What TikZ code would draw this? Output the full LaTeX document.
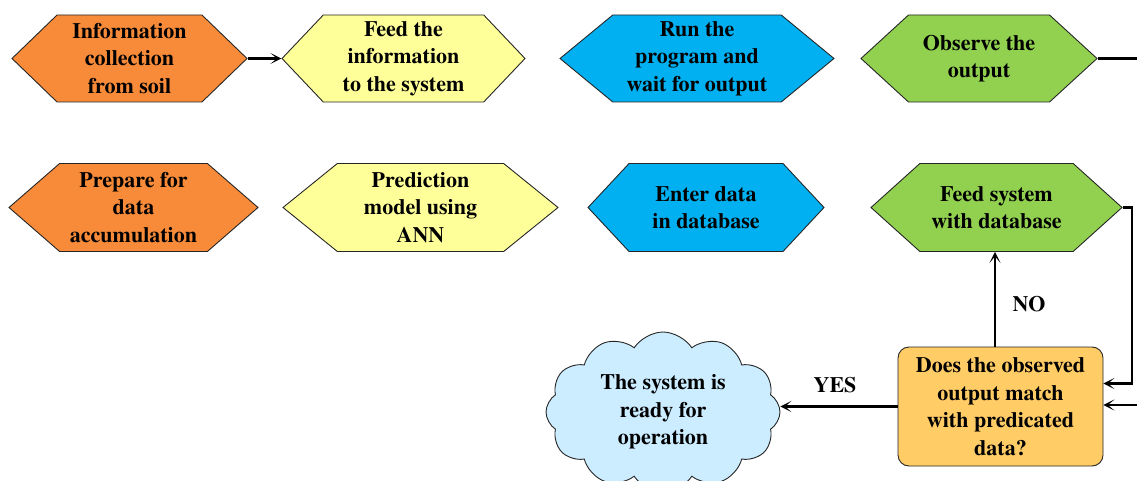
\documentclass[tikz,border=0pt]{standalone}
\usepackage{fontspec}
\setmainfont{texgyretermes}[Extension=.otf, UprightFont=*-regular, BoldFont=*-bold]
\newfontfamily\timesbold{texgyretermes}[Extension=.otf, UprightFont=*-bold]
\usetikzlibrary{shapes.symbols,arrows.meta}

\definecolor{hexorange}{RGB}{247,139,57}
\definecolor{hexyellow}{RGB}{255,255,153}
\definecolor{hexblue}{RGB}{0,176,240}
\definecolor{hexgreen}{RGB}{146,208,80}
\definecolor{decfill}{RGB}{255,204,102}
\definecolor{cloudfill}{RGB}{204,236,255}

\begin{document}
\begin{tikzpicture}[x=1pt,y=-1pt,
  lbl/.style={font=\timesbold\fontsize{22}{27.5}\selectfont, align=center},
  hexbox/.style={lbl, shape=signal, signal to=east and west, draw=black!85,
    line width=0.9pt, inner sep=0pt, minimum height=87pt},
  decbox/.style={lbl, rectangle, rounded corners=11pt, draw=black!85,
    line width=0.9pt, fill=decfill, minimum width=205pt, minimum height=119pt, inner sep=0pt},
  cloudbox/.style={lbl, shape=cloud, cloud puffs=12, cloud puff arc=115, aspect=1.45,
    draw=black!85, line width=0.9pt, fill=cloudfill, inner sep=0pt,
    minimum width=234pt, minimum height=160pt},
  flow/.style={line width=2.2pt, -{Stealth[length=11pt,width=11pt,inset=6.5pt]}},
  plain/.style={line width=2.2pt},
  tag/.style={font=\timesbold\fontsize{22}{26}\selectfont},
]
\useasboundingbox (0,0) rectangle (1137,481);
\clip (0,0) rectangle (1137,481);

% first row
\node[hexbox, fill=hexorange, minimum width=235pt, signal pointer angle=88]
  (collect) at (129.5,58.5) {Information\\collection\\from soil};
\node[hexbox, fill=hexyellow, minimum width=243pt, signal pointer angle=93]
  (feedinfo) at (403.5,58.5) {Feed the\\information\\to the system};
\node[hexbox, fill=hexblue, minimum width=274pt, signal pointer angle=79]
  (run) at (697,58.5) {Run the\\program and\\wait for output};
\node[hexbox, fill=hexgreen, minimum width=236pt, signal pointer angle=85]
  (observe) at (979,58.5) {Observe the\\output};

% second row
\node[hexbox, fill=hexorange, minimum width=249pt, minimum height=88pt, signal pointer angle=82]
  (prepare) at (133.5,207.5) {Prepare for\\data\\accumulation};
\node[hexbox, fill=hexyellow, minimum width=275pt, minimum height=88pt, signal pointer angle=78]
  (predict) at (420.5,207.5) {Prediction\\model using\\ANN};
\node[hexbox, fill=hexblue, minimum width=236pt, minimum height=88pt, signal pointer angle=94]
  (enter) at (706,207.5) {Enter data\\in database};
\node[hexbox, fill=hexgreen, minimum width=251pt, minimum height=88pt, signal pointer angle=84]
  (feeddb) at (996.5,207.5) {Feed system\\with database};

% decision and result
\node[decbox] (match) at (1000.5,406.5) {Does the observed\\output match\\with predicated\\data?};
\node[cloudbox] (ready) at (663,412) {The system is\\ready for\\operation};

% connectors
\coordinate (offright) at ([xshift=60pt]observe.east);
\coordinate (offright2) at (1150,405);
\coordinate (bend) at (1132,207.5);
\coordinate (inupper) at ([yshift=23pt]match.east);

\draw[flow] (collect.east) -- (feedinfo.west);
\draw[plain] (observe.east) -- (offright);
\draw[flow] (feeddb.east) -- (bend) |- (inupper);
\draw[flow] (offright2) -- (offright2 -| match.east);
\draw[flow] (match.north -| 995,0) -- (995,0 |- feeddb.south);
\draw[flow] (match.west) -- (match.west -| ready.east);

\node[tag] (no) at (1029,304) {NO};
\node[tag] (yes) at (835,385) {YES};
\end{tikzpicture}
\end{document}
